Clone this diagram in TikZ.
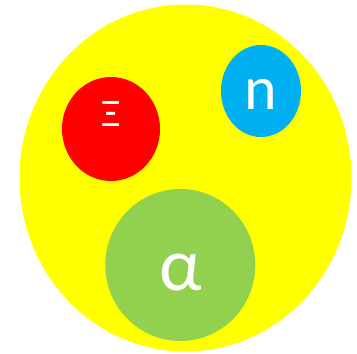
\documentclass[tikz,border=0pt]{standalone}
\usepackage{fontspec}
\setmainfont{Carlito}
\usetikzlibrary{shapes.geometric}
\definecolor{nucyellow}{HTML}{FFFF00}
\definecolor{nucred}{HTML}{FF0000}
\definecolor{nucblue}{HTML}{00B0F0}
\definecolor{nucgreen}{HTML}{92D050}

\begin{document}
\begin{tikzpicture}[
    x=1pt, y=-1pt,
    ball/.style={ellipse, draw=none, inner sep=0pt},
    tag/.style={text=white, inner sep=0pt, anchor=base}
]
\useasboundingbox (0,0) rectangle (357,354);

\node[ball, fill=nucyellow, minimum width=332pt, minimum height=347pt] (hyp) at (185.5,178) {};
\node[ball, fill=nucred, minimum width=98pt, minimum height=104pt] (xi) at (111,129) {};
\node[ball, fill=nucblue, minimum width=80pt, minimum height=92pt] (neu) at (261,91) {};
\node[ball, fill=nucgreen, minimum width=150pt, minimum height=152pt] (alp) at (180.3,265) {};

\node[tag, font=\fontsize{39}{39}\selectfont] (xitag) at (111,126.7) {Ξ};
\node[tag, font=\fontsize{62}{62}\selectfont] (neutag) at (261,109) {n};
\node[tag, font=\fontsize{75}{75}\selectfont] (alptag) at (180.3,290) {α};

\end{tikzpicture}
\end{document}
